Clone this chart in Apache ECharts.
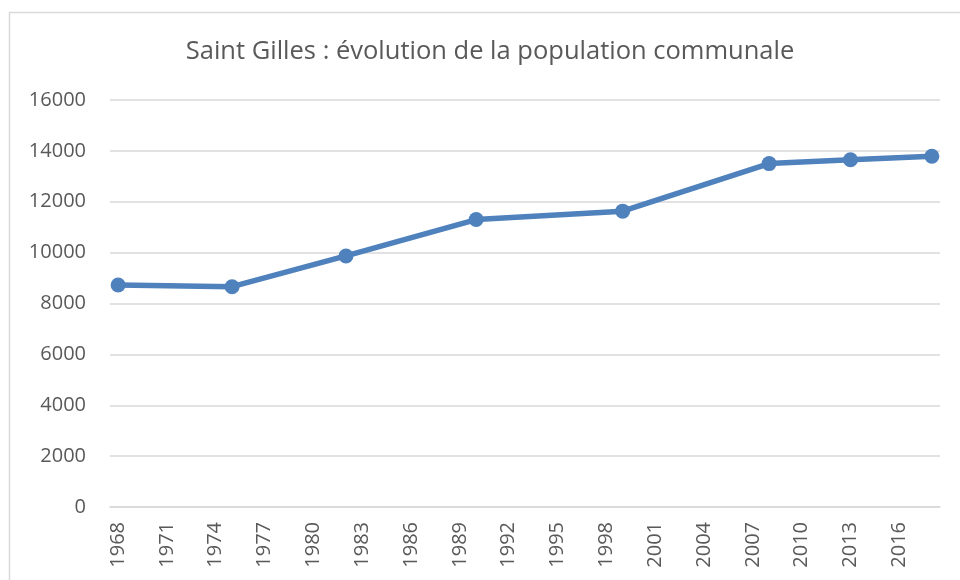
<!DOCTYPE html>
<html>
<head>
<meta charset="utf-8">
<script src="https://cdn.jsdelivr.net/npm/echarts@6/dist/echarts.min.js"></script>
<style>
  html, body { margin: 0; padding: 0; background: #fff; }
  #chart { width: 960px; height: 580px; }
</style>
</head>
<body>
<div id="chart"></div>
<script>
// census years and population
const years = [1968, 1975, 1982, 1990, 1999, 2008, 2013, 2018];
const population = [8730, 8660, 9870, 11300, 11630, 13500, 13650, 13790];
const firstYear = 1968;
const lastYear = 2018;

// one category per year (Excel-style date axis), gaps filled with null
const categories = [];
for (let y = firstYear; y <= lastYear; y++) categories.push(String(y));
const seriesData = categories.map(() => null);
years.forEach((y, i) => { seriesData[y - firstYear] = population[i]; });

const chart = echarts.init(document.getElementById("chart"));

const option = {
  backgroundColor: "#fff",
  animation: false,
  title: {
    text: "Saint Gilles : évolution de la population communale",
    left: 485,
    textAlign: "center",
    top: 34,
    textStyle: {
      fontFamily: "Open Sans",
      fontSize: 25.5,
      fontWeight: "normal",
      color: "#595959",
    },
  },
  graphic: [
    {
      type: "rect",
      shape: { x: 9.5, y: 12.5, width: 1000, height: 700 },
      style: { fill: "none", stroke: "#d9d9d9", lineWidth: 1.5 },
      silent: true,
    },
  ],
  grid: { left: 110, right: 20, top: 100, bottom: 73 },
  xAxis: {
    type: "category",
    data: categories,
    boundaryGap: true,
    axisLine: { lineStyle: { color: "#d9d9d9", width: 1.5 } },
    axisTick: { interval: 2, length: 6, lineStyle: { color: "#d9d9d9", width: 1.5 } },
    axisLabel: {
      interval: 2,
      rotate: 90,
      margin: 15,
      fontFamily: "Open Sans",
      fontSize: 20,
      color: "#595959",
    },
  },
  yAxis: {
    type: "value",
    min: 0,
    max: 16000,
    interval: 2000,
    axisLine: { show: false },
    axisTick: { show: false },
    axisLabel: {
      margin: 24,
      fontFamily: "Open Sans",
      fontSize: 20,
      color: "#595959",
      formatter: (v) => String(v),
    },
    splitLine: { lineStyle: { color: "#d9d9d9", width: 1.5 } },
  },
  series: [
    {
      type: "line",
      data: seriesData,
      connectNulls: true,
      showAllSymbol: true,
      symbol: "circle",
      symbolSize: 15,
      lineStyle: { color: "#4f81bd", width: 5.5 },
      itemStyle: { color: "#4f81bd" },
    },
  ],
};

chart.setOption(option);
</script>
</body>
</html>
